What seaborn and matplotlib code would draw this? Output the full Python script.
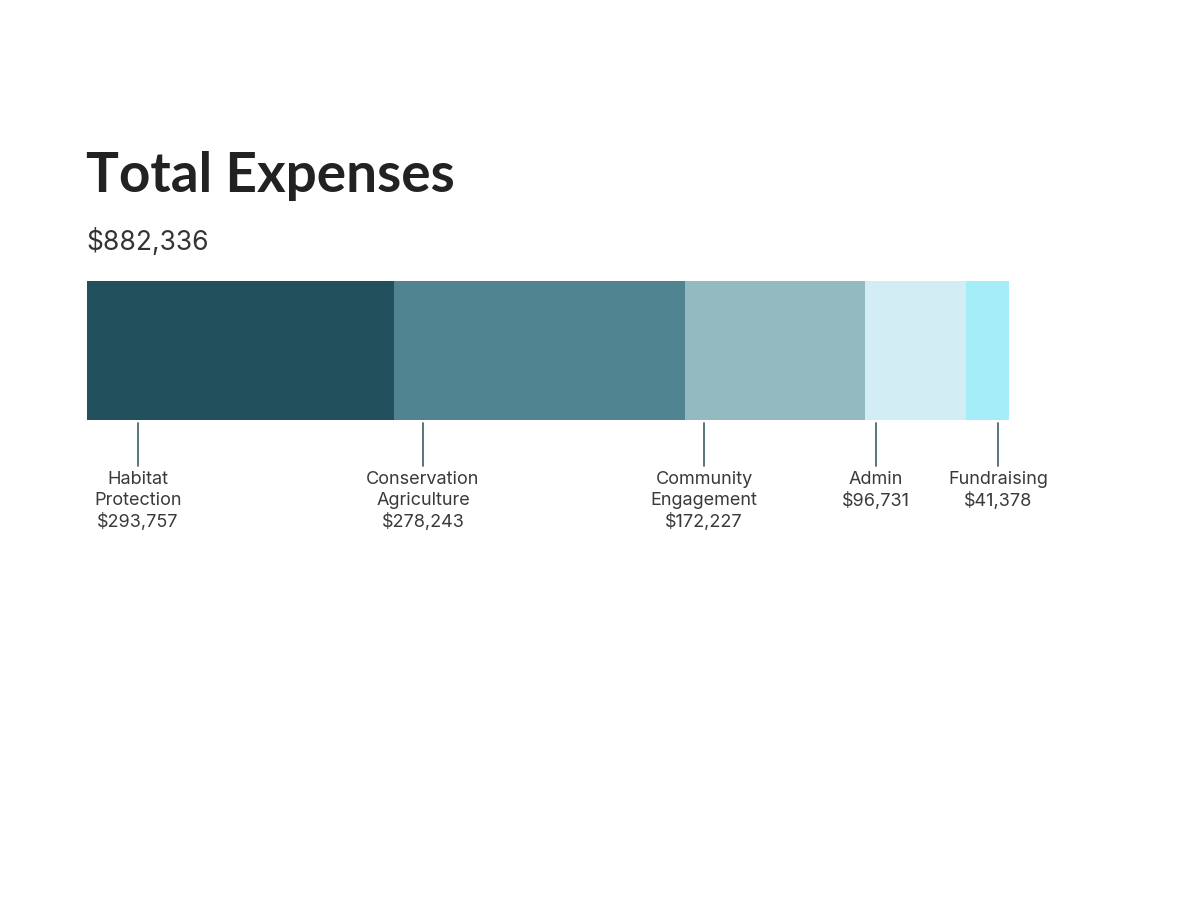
import matplotlib
matplotlib.use("Agg")
import matplotlib.pyplot as plt
import matplotlib.transforms as mtransforms
import numpy as np
import seaborn as sns

# dados
categorias = ["Habitat\nProtection", "Conservation\nAgriculture", "Community\nEngagement", "Admin", "Fundraising"]
valores = [293757, 278243, 172227, 96731, 41378]
cores = ["#22505c", "#508490", "#93b9c1", "#d3edf4", "#a6edfa"]
# onde ficam as linhas de chamada (em dólares, ao longo da barra)
pos_rotulos = [48800, 321500, 590500, 755000, 871800]

total = sum(valores)
acumulado = np.cumsum(valores)

sns.set_theme(style="white")
plt.rcParams["font.family"] = ["Inter", "DejaVu Sans"]

fig = plt.figure(figsize=(12, 9), dpi=100)
ax = fig.add_axes([87 / 1200, 1 - 420 / 900, 922 / 1200, 139 / 900])

# barra empilhada: desenha os acumulados do maior para o menor
for i in reversed(range(len(valores))):
    sns.barplot(x=[acumulado[i]], y=[0], orient="h", color=cores[i],
                width=1.0, linewidth=0, saturation=1, ax=ax)

ax.set_xlim(0, total)
ax.set_ylim(0.5, -0.5)
ax.axis("off")

# linhas e rótulos
trans = mtransforms.blended_transform_factory(ax.transData, fig.transFigure)
for cat, val, xr in zip(categorias, valores, pos_rotulos):
    ax.plot([xr, xr], [1 - 423 / 900, 1 - 466 / 900], color="#4a6a72", lw=1.3,
            transform=trans, clip_on=False)
    ax.text(xr, 1 - 471 / 900, f"{cat}\n${val:,}", transform=trans, ha="center", va="top",
            multialignment="center", fontsize=13, color="#3a3a3a", linespacing=1.3)

fig.text(86 / 1200, 1 - 192 / 900, "Total Expenses", fontsize=39.5, fontweight="bold",
         color="#222222", family=["Lato", "DejaVu Sans"], va="baseline")
fig.text(86 / 1200, 1 - 250 / 900, f"${total:,}", fontsize=19, color="#333333", va="baseline")

fig.savefig("out.png", dpi=100, facecolor="white")
